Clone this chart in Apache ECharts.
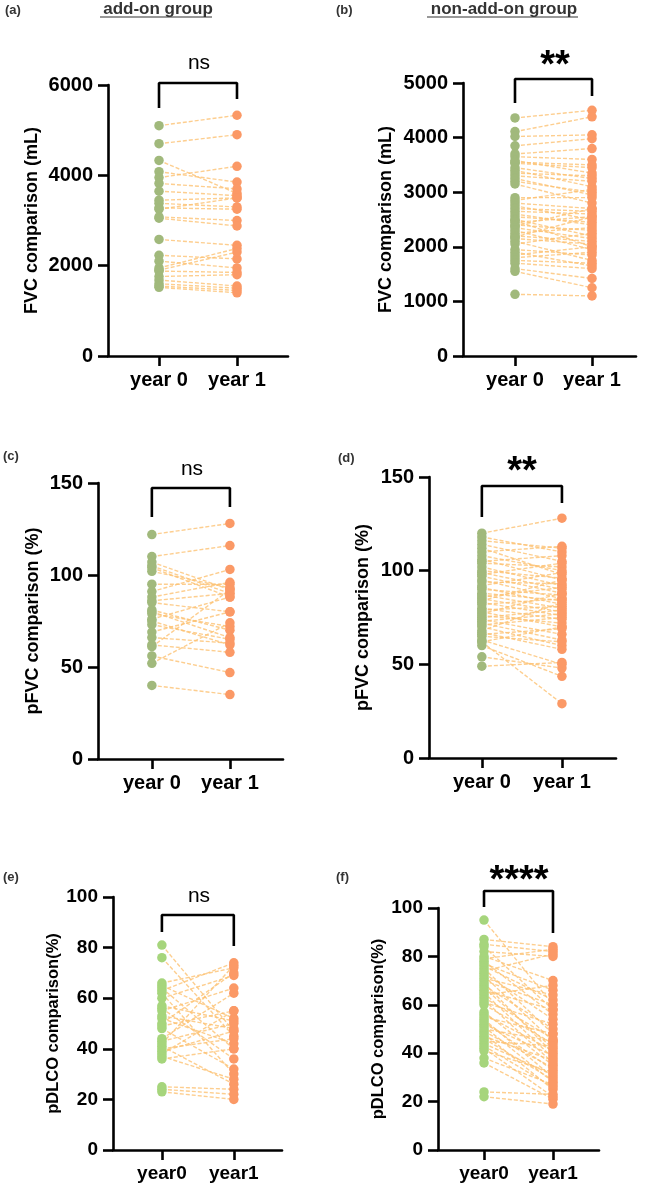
<!DOCTYPE html>
<html>
<head>
<meta charset="utf-8">
<script src="https://cdn.jsdelivr.net/npm/echarts@6/dist/echarts.min.js"></script>
<style>
  html, body { margin: 0; padding: 0; background: #fff; }
  #chart { width: 646px; height: 1187px; }
</style>
</head>
<body>
<div id="chart"></div>
<script>
// x categories
const yearCats = ['year 0', 'year 1'];
const yearCatsShort = ['year0', 'year1'];

// (a) FVC, add-on group (mL)
const fvcAddY0 = [5100, 4700, 4330, 4080, 3950, 3820, 3650, 3450, 3380, 3280, 3250, 3080, 3050, 2580, 2230, 2100, 1950, 1900, 1880, 1760, 1680, 1600, 1550, 1520];
const fvcAddY1 = [5330, 4900, 3600, 3850, 4200, 3700, 3550, 3500, 3300, 3250, 3500, 3000, 2880, 2450, 2150, 1950, 2380, 2300, 1850, 1800, 1550, 1500, 1450, 1400];

// (b) FVC, non-add-on group (mL)
const fvcNonY0 = [4360, 4110, 4020, 3850, 3700, 3650, 3580, 3550, 3530, 3450, 3400, 3350, 3300, 3250, 3200, 3150, 2900, 2850, 2800, 2750, 2700, 2650, 2600, 2550, 2500, 2480, 2450, 2400, 2380, 2350, 2300, 2250, 2200, 2180, 2150, 2100, 2050, 1950, 1900, 1850, 1800, 1750, 1700, 1600, 1550, 1130];
const fvcNonY1 = [4500, 4380, 4050, 3980, 3800, 3600, 3350, 3500, 3450, 3250, 3100, 3300, 3200, 2950, 3000, 2800, 2900, 3050, 2700, 2500, 2650, 2600, 2400, 2450, 2200, 2000, 2550, 2300, 2700, 2150, 1950, 2350, 2100, 2550, 2050, 1750, 2250, 1850, 1650, 2000, 1900, 1700, 1600, 1420, 1250, 1100];

// (c) pFVC, add-on group (%)
const pfvcAddY0 = [122, 110, 107, 105, 104, 102, 95, 91, 88, 86, 85, 81, 80, 79, 76, 75, 73, 69, 66, 62, 61, 56, 52, 40];
const pfvcAddY1 = [128, 116, 92, 90, 88, 93, 95, 103, 96, 90, 80, 70, 66, 72, 88, 62, 65, 80, 63, 58, 92, 47, 74, 35];

// (d) pFVC, non-add-on group (%)
const pfvcNonY0 = [120, 118, 116, 114, 112, 110, 108, 106, 105, 104, 102, 100, 99, 98, 97, 95, 94, 92, 91, 90, 88, 87, 86, 85, 84, 83, 82, 80, 79, 78, 77, 76, 75, 74, 73, 72, 71, 70, 68, 67, 66, 65, 63, 62, 60, 54, 49, 62];
const pfvcNonY1 = [128, 110, 112, 105, 98, 113, 100, 95, 108, 102, 92, 96, 90, 104, 88, 85, 93, 99, 82, 87, 84, 80, 91, 78, 95, 76, 85, 74, 81, 70, 88, 72, 79, 66, 77, 63, 75, 60, 83, 58, 69, 62, 50, 70, 43.6, 48, 51, 29];

// (e) pDLCO, add-on group (%)
const pdlcoAddY0 = [81, 76, 66, 65, 64, 63, 62, 60, 57, 56, 55, 53, 52, 50, 49, 48, 44, 43, 42, 41, 40, 39, 38, 37, 36, 25, 24, 23];
const pdlcoAddY1 = [47, 45, 72, 52, 40, 74, 30, 69, 51, 36, 64, 48, 42, 70, 55, 32, 62, 50, 73, 26, 44, 47, 55, 28, 40, 24, 22, 20];

// (f) pDLCO, non-add-on group (%)
const pdlcoNonY0 = [95, 87, 85, 84, 82, 80, 79, 78, 77, 76, 75, 74, 73, 72, 71, 70, 69, 68, 67, 66, 65, 64, 63, 62, 61, 60, 57, 56, 55, 54, 53, 52, 51, 50, 49, 48, 47, 46, 45, 44, 43, 42, 41, 38, 36, 24, 22];
const pdlcoNonY1 = [60, 84, 82, 58, 80, 70, 83, 56, 66, 62, 48, 81, 54, 45, 64, 60, 40, 50, 42, 58, 38, 68, 46, 36, 52, 44, 35, 41, 48, 30, 33, 39, 28, 45, 34, 25, 37, 29, 43, 31, 26, 22, 32, 27, 21, 23, 19];

// y-axis ticks
const fvcAddTicks = [0, 2000, 4000, 6000];
const fvcNonTicks = [0, 1000, 2000, 3000, 4000, 5000];
const pfvcTicks = [0, 50, 100, 150];
const pdlcoTicks = [0, 20, 40, 60, 80, 100];

// significance labels and bracket levels [top, left leg end, right leg end]
const sigLabels = ['ns', '**', 'ns', '**', 'ns', '****'];
const bracketA = [6044, 5490, 5690];
const bracketB = [5073, 4634, 4762];
const bracketC = [147.3, 131.5, 137];
const bracketD = [145.2, 128.6, 136.1];
const bracketE = [92.9, 86.2, 80.6];
const bracketF = [107, 100.4, 89.7];

const FONT = "'Liberation Sans', Arial, Helvetica, sans-serif";
const OLIVE = '#a1b97c';
const LIME = '#a6d57c';
const ORANGE = '#fb9966';
const DASH = 'rgba(252, 194, 115, 0.8)';

const panels = [
  { y0: fvcAddY0, y1: fvcAddY1, cats: yearCats, ticks: fvcAddTicks, br: bracketA, sig: sigLabels[0],
    name: 'FVC comparison (mL)', grid: { left: 108, top: 85, width: 180, height: 271 },
    xr: [-0.654, 1.654], nameGap: 67, nameSize: 18, labSize: 20, green: OLIVE,
    letter: '(a)', lp: [5, 12], sp: [199, 63] },
  { y0: fvcNonY0, y1: fvcNonY1, cats: yearCats, ticks: fvcNonTicks, br: bracketB, sig: sigLabels[1],
    name: 'FVC comparison (mL)', grid: { left: 463, top: 83, width: 173, height: 273 },
    xr: [-0.675, 1.571], nameGap: 68, nameSize: 18, labSize: 20, green: OLIVE,
    letter: '(b)', lp: [336, 12], sp: [555, 60] },
  { y0: pfvcAddY0, y1: pfvcAddY1, cats: yearCats, ticks: pfvcTicks, br: bracketC, sig: sigLabels[2],
    name: 'pFVC comparison (%)', grid: { left: 98, top: 483, width: 185, height: 276 },
    xr: [-0.69, 1.68], nameGap: 56, nameSize: 18, labSize: 20, green: OLIVE,
    letter: '(c)', lp: [3, 458], sp: [192, 469] },
  { y0: pfvcNonY0, y1: pfvcNonY1, cats: yearCats, ticks: pfvcTicks, br: bracketD, sig: sigLabels[3],
    name: 'pFVC comparison (%)', grid: { left: 429, top: 477, width: 187, height: 281 },
    xr: [-0.66, 1.675], nameGap: 57, nameSize: 18, labSize: 20, green: OLIVE,
    letter: '(d)', lp: [338, 460], sp: [522, 466] },
  { y0: pdlcoAddY0, y1: pdlcoAddY1, cats: yearCatsShort, ticks: pdlcoTicks, br: bracketE, sig: sigLabels[4],
    name: 'pDLCO comparison(%)', grid: { left: 113, top: 897, width: 169, height: 253 },
    xr: [-0.68, 1.67], nameGap: 50, nameSize: 16.5, labSize: 19, green: LIME,
    letter: '(e)', lp: [3, 879], sp: [199, 896] },
  { y0: pdlcoNonY0, y1: pdlcoNonY1, cats: yearCatsShort, ticks: pdlcoTicks, br: bracketF, sig: sigLabels[5],
    name: 'pDLCO comparison(%)', grid: { left: 438, top: 908, width: 161, height: 242 },
    xr: [-0.667, 1.667], nameGap: 49, nameSize: 16.5, labSize: 19, green: LIME,
    letter: '(f)', lp: [336, 879], sp: [519, 875] }
];

const grids = [], xAxes = [], yAxes = [], series = [], graphics = [];

panels.forEach((p, i) => {
  grids.push(p.grid);
  xAxes.push({
    type: 'value', gridIndex: i, min: p.xr[0], max: p.xr[1],
    splitLine: { show: false },
    axisLine: { onZero: false, lineStyle: { color: '#000', width: 2.6 } },
    axisTick: { customValues: [0, 1], length: 10, lineStyle: { color: '#000', width: 2.6 } },
    axisLabel: {
      customValues: [0, 1], margin: 14, color: '#000', fontWeight: 'bold',
      fontSize: p.labSize, fontFamily: FONT,
      formatter: v => p.cats[Math.round(v)]
    }
  });
  const ymax = p.ticks[p.ticks.length - 1];
  yAxes.push({
    type: 'value', gridIndex: i, min: 0, max: ymax, interval: p.ticks[1] - p.ticks[0],
    splitLine: { show: false },
    axisLine: { show: true, onZero: false, lineStyle: { color: '#000', width: 2.6 } },
    axisTick: { show: true, length: 10, lineStyle: { color: '#000', width: 2.6 } },
    axisLabel: {
      margin: 15, color: '#000', fontWeight: 'bold', fontSize: p.labSize, fontFamily: FONT,
      formatter: v => String(v)
    },
    name: p.name, nameLocation: 'middle', nameGap: p.nameGap,
    nameTextStyle: { color: '#000', fontWeight: 'bold', fontSize: p.nameSize, fontFamily: FONT }
  });

  // paired dashed lines
  p.y0.forEach((v, k) => {
    series.push({
      type: 'line', xAxisIndex: i, yAxisIndex: i, silent: true, symbol: 'none',
      data: [[0, v], [1, p.y1[k]]],
      lineStyle: { color: DASH, width: 1.4, type: [4, 2] }, z: 1
    });
  });
  // points
  series.push({
    type: 'scatter', xAxisIndex: i, yAxisIndex: i, symbolSize: 9.5, z: 3,
    itemStyle: { color: p.green, opacity: 1 },
    data: p.y0.map(v => [0, v])
  });
  series.push({
    type: 'scatter', xAxisIndex: i, yAxisIndex: i, symbolSize: 9.5, z: 3,
    itemStyle: { color: ORANGE, opacity: 1 },
    data: p.y1.map(v => [1, v])
  });
  // significance bracket
  series.push({
    type: 'line', xAxisIndex: i, yAxisIndex: i, silent: true, symbol: 'none', clip: false, z: 4,
    data: [[0, p.br[1]], [0, p.br[0]], [1, p.br[0]], [1, p.br[2]]],
    lineStyle: { color: '#000', width: 2.6 }
  });

  graphics.push({
    type: 'text', left: p.lp[0], top: p.lp[1] - 8,
    style: { text: p.letter, font: 'bold 13px ' + FONT, fill: '#333' }
  });
  const isStar = p.sig.indexOf('*') >= 0;
  graphics.push({
    type: 'text', x: p.sp[0], y: p.sp[1] + (isStar ? 7 : 0),
    style: {
      text: p.sig, fill: '#000', align: 'center', verticalAlign: 'middle',
      font: (isStar ? 'bold 38px ' : '21px ') + FONT
    }
  });
});

// group titles (underlined)
const titles = [
  { text: 'add-on group', x: 158 },
  { text: 'non-add-on group', x: 504 }
];
titles.forEach(t => {
  graphics.push({
    type: 'text', x: t.x, y: 9,
    style: { text: t.text, fill: '#333', align: 'center', verticalAlign: 'middle', font: 'bold 17px ' + FONT }
  });
});
graphics.push({ type: 'line', shape: { x1: 100, y1: 17, x2: 212, y2: 17 }, style: { stroke: '#333', lineWidth: 1.2 } });
graphics.push({ type: 'line', shape: { x1: 427, y1: 17, x2: 578, y2: 17 }, style: { stroke: '#333', lineWidth: 1.2 } });

const chart = echarts.init(document.getElementById('chart'));
chart.setOption({
  animation: false,
  backgroundColor: '#fff',
  grid: grids,
  xAxis: xAxes,
  yAxis: yAxes,
  series: series,
  graphic: graphics
});
</script>
</body>
</html>
